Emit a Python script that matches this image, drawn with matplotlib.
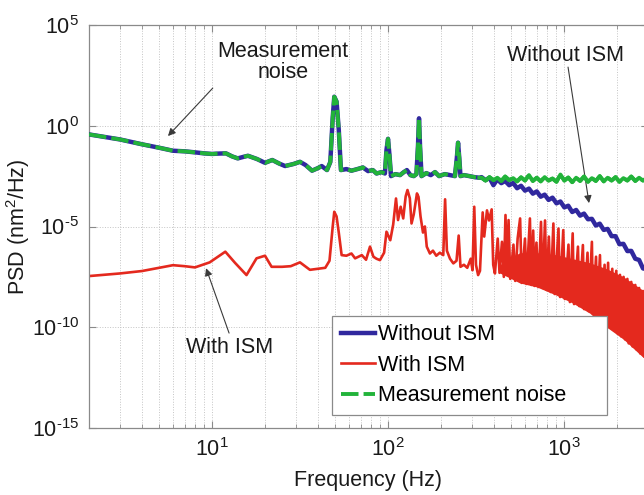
import numpy as np
import matplotlib.pyplot as plt
from matplotlib.ticker import FixedLocator, NullLocator, LogLocator, NullFormatter, FuncFormatter

plt.rcParams['font.family'] = ['Liberation Sans', 'DejaVu Sans']
plt.rcParams['mathtext.fontset'] = 'custom'
plt.rcParams['mathtext.rm'] = 'Liberation Sans'
plt.rcParams['mathtext.it'] = 'Liberation Sans:italic'
plt.rcParams['axes.unicode_minus'] = False

# Shared part of the spectrum (without ISM and measurement noise coincide below ~340 Hz), log10 PSD
common_freq = [2, 3, 4, 5, 6, 7, 8, 9, 10, 11, 12, 13, 14, 15, 16, 18, 20, 22, 24, 26,
               29, 31.6, 34, 37, 40, 42, 45, 47, 48.5, 49.5, 51, 52.5, 54, 58, 62, 67, 72,
               77, 82, 86, 92, 96, 98, 100, 102, 104, 110, 117, 123, 128, 134, 140, 145,
               148, 150, 152, 155, 165, 175, 185, 195, 210, 225, 240, 246, 250, 254, 258,
               270, 290, 310, 330]
common_log = [-0.43, -0.68, -0.92, -1.09, -1.24, -1.27, -1.32, -1.37, -1.40, -1.38, -1.37,
              -1.52, -1.62, -1.55, -1.49, -1.65, -1.84, -1.70, -1.87, -2.00, -1.90, -1.79,
              -1.95, -2.23, -2.10, -2.00, -2.20, -1.80, 0.40, 1.44, 1.20, -0.20, -2.20,
              -2.15, -2.23, -2.15, -2.07, -2.25, -2.20, -2.37, -2.30, -2.37, -1.20, -0.65,
              -1.50, -2.50, -2.40, -2.45, -2.30, -2.20, -2.45, -2.50, -2.40, -1.00, 0.37,
              -1.00, -2.50, -2.35, -2.45, -2.30, -2.50, -2.40, -2.45, -2.50, -1.60, -0.84,
              -1.60, -2.50, -2.45, -2.50, -2.55, -2.58]

# Above ~340 Hz the two curves separate
high_freq = [340, 358, 377, 397, 418, 440, 463, 488, 514, 541, 570, 600, 632, 665, 700,
             737, 776, 817, 860, 906, 954, 1004, 1057, 1113, 1172, 1234, 1299, 1368, 1440,
             1516, 1596, 1681, 1770, 1863, 1962, 2065, 2175, 2290, 2410, 2540, 2670, 2810,
             2960, 3000]
without_high_log = [-2.55, -2.70, -2.58, -2.95, -2.66, -2.85, -2.74, -2.95, -2.84, -3.10,
                    -2.98, -3.22, -3.12, -3.37, -3.26, -3.52, -3.42, -3.68, -3.57, -3.85,
                    -3.76, -4.05, -3.97, -4.28, -4.18, -4.46, -4.36, -4.64, -4.62, -4.95,
                    -4.86, -5.17, -5.12, -5.48, -5.48, -5.88, -5.86, -6.22, -6.21, -6.60,
                    -6.66, -7.08, -7.12, -7.25]
noise_high_log = [-2.58, -2.72, -2.55, -2.70, -2.58, -2.74, -2.52, -2.70, -2.60, -2.76,
                  -2.56, -2.72, -2.45, -2.74, -2.58, -2.76, -2.55, -2.72, -2.62, -2.78,
                  -2.42, -2.72, -2.57, -2.80, -2.58, -2.74, -2.52, -2.78, -2.60, -2.74,
                  -2.50, -2.76, -2.58, -2.72, -2.55, -2.78, -2.60, -2.72, -2.52, -2.74,
                  -2.58, -2.72, -2.60, -2.66]

# With ISM, log10 PSD
with_freq = [2, 3, 4, 5, 6, 7, 8, 9.7, 11.9, 13.5, 15.7, 17.9, 20, 21.8, 25, 28, 31.6, 36,
             40, 44, 46.5, 48.5, 49.5, 51, 52.5, 54.5, 58, 62, 65, 71, 75, 79, 82.6, 86, 90,
             95, 98, 103, 107, 111, 114, 118, 122, 126, 129, 133, 136, 140, 146, 149, 153,
             158, 162, 166, 173, 180, 188, 197, 206, 211, 216, 225, 235, 245, 252, 258, 270,
             282, 295, 302, 309, 316, 325, 333, 345, 352, 365, 375, 388, 396, 405,
             420, 430, 444, 455, 465, 474, 484, 495, 516, 528, 545, 563, 575, 600, 612, 640,
             652, 668, 680, 697, 715, 740, 755, 780, 795, 820, 840, 870, 885, 930, 950, 990,
             1010, 1060, 1080, 1120, 1140, 1200, 1220, 1280, 1300, 1360, 1380, 1440, 1460,
             1520, 1540, 1600, 1630, 1700, 1720, 1780, 1810, 1880, 1910, 1980, 2010, 2080,
             2110, 2180, 2220, 2290, 2330, 2410, 2450, 2540, 2580, 2670, 2710, 2810, 2850,
             2960, 3000]
with_log = [-7.46, -7.33, -7.21, -7.05, -6.92, -6.97, -7.03, -6.78, -6.25, -6.80, -7.41,
            -6.58, -6.45, -7.00, -7.00, -6.97, -6.78, -7.15, -7.10, -7.05, -6.70, -5.00,
            -4.27, -4.50, -5.30, -6.42, -6.45, -6.34, -6.58, -6.42, -6.65, -6.00, -6.50,
            -6.60, -6.67, -6.30, -5.26, -5.68, -4.90, -3.61, -4.68, -4.02, -4.60, -3.50,
            -3.19, -3.60, -4.85, -4.40, -3.36, -3.53, -4.50, -5.30, -5.00, -6.00, -6.34,
            -6.20, -6.45, -6.30, -6.42, -3.65, -6.20, -6.60, -6.83, -6.70, -5.45, -7.00,
            -6.90, -7.05, -6.60, -7.17, -4.02, -6.90, -7.41, -7.20, -4.30, -5.50, -4.20,
            -4.70, -4.15, -6.90, -7.33,
            -5.60, -7.30, -5.76, -7.50, -4.43, -7.40, -4.68, -7.60, -5.90, -7.70, -5.60,
            -4.60, -7.80, -5.60, -7.85, -4.60, -7.90, -5.20, -7.95, -5.80, -8.00, -4.77,
            -8.05, -4.70, -8.15, -5.50, -8.25, -4.85, -8.35, -5.10, -8.50, -5.18, -8.60,
            -5.90, -8.75, -5.34, -8.85, -6.00, -8.95, -5.92, -9.10, -6.30, -9.20, -5.76,
            -9.35, -6.50, -9.50, -6.42, -9.60, -6.90, -9.80, -6.80, -10.00, -7.10, -10.10,
            -7.20, -10.30, -7.40, -10.45, -7.50, -10.60, -7.60, -10.80, -7.75, -10.95,
            -7.90, -11.10, -8.05, -11.30, -8.20, -11.45, -8.35, -11.60]

# Dense part of the with-ISM trace at high frequency (upper / lower edge)
band_freq = [430, 560, 700, 900, 1120, 1400, 1750, 2180, 2740, 3000]
band_hi_log = [-6.9, -6.3, -6.3, -6.4, -6.6, -6.8, -7.1, -7.5, -8.1, -8.4]
band_lo_log = [-7.3, -7.8, -8.0, -8.4, -8.8, -9.3, -10.0, -10.6, -11.4, -11.7]

blue = '#30289e'
red = '#e4291e'
green = '#22b33a'
ink = '#1a1a1a'
frame = '#8a8a8a'
fs = 15.5

fig = plt.figure(figsize=(6.44, 4.95), dpi=100)
ax = fig.add_axes([89 / 644, 67 / 495, 559 / 644, 403 / 495])

without_freq = np.array(common_freq + high_freq)
without_psd = 10.0 ** np.array(common_log + without_high_log)
noise_psd = 10.0 ** np.array(common_log + noise_high_log)
n_common = len(common_freq)

ax.plot(without_freq, without_psd, color=blue, lw=3.2, label='Without ISM', zorder=3)
ax.fill_between(band_freq, 10.0 ** np.array(band_lo_log), 10.0 ** np.array(band_hi_log),
                color=red, lw=0, zorder=2)
ax.plot(with_freq, 10.0 ** np.array(with_log), color=red, lw=1.9, label='With ISM', zorder=2)
ax.plot(without_freq, noise_psd, color=green, lw=2.8, dashes=(4.5, 1.3),
        label='Measurement noise', zorder=4)
# the noisy part above the knee reads as a solid band
ax.plot(without_freq[n_common - 1:], noise_psd[n_common - 1:], color=green, lw=2.8, zorder=4)

ax.set_xscale('log')
ax.set_yscale('log')
ax.set_xlim(2, 3000)
ax.set_ylim(1e-15, 1e5)


def decade_label(val, pos):
    e = int(round(np.log10(val)))
    if e < 0:
        return r'$\mathregular{10^{\text{-}%d}}$' % (-e)
    return r'$\mathregular{10^{%d}}$' % e


ax.yaxis.set_major_locator(FixedLocator([1e-15, 1e-10, 1e-5, 1e0, 1e5]))
ax.yaxis.set_minor_locator(NullLocator())
ax.yaxis.set_major_formatter(FuncFormatter(decade_label))
ax.xaxis.set_major_locator(LogLocator(base=10, numticks=10))
ax.xaxis.set_minor_locator(LogLocator(base=10, subs=np.arange(2, 10), numticks=20))
ax.xaxis.set_major_formatter(FuncFormatter(decade_label))
ax.xaxis.set_minor_formatter(NullFormatter())

ax.grid(True, which='major', axis='both', color='#c4c4c4', ls=':', lw=0.7)
ax.grid(True, which='minor', axis='x', color='#c4c4c4', ls=':', lw=0.7)
ax.set_axisbelow(True)

for sp in ax.spines.values():
    sp.set_color(frame)
    sp.set_linewidth(0.9)
ax.tick_params(which='both', direction='in', top=True, right=True, color=frame,
               labelsize=fs, labelcolor=ink)
ax.tick_params(which='major', length=5, width=0.8)
ax.tick_params(which='minor', length=3, width=0.6)
ax.tick_params(axis='x', pad=7)
ax.tick_params(axis='y', pad=7)

ax.set_xlabel('Frequency (Hz)', fontsize=fs, color=ink)
ax.set_ylabel('PSD (nm$^2$/Hz)', fontsize=fs, color=ink)
ax.xaxis.set_label_coords(0.5, -0.104)
ax.yaxis.set_label_coords(-0.102, 0.5)

# Callouts
arrow = dict(arrowstyle='-|>', color='#3a3a3a', lw=0.8, mutation_scale=11,
             shrinkA=0, shrinkB=0)
ax.text(25.3, 10 ** 3.16, 'Measurement\nnoise', fontsize=fs, ha='center', va='center',
        linespacing=1.05, color=ink)
ax.annotate('', xy=(5.62, 10 ** -0.51), xytext=(10.1, 10 ** 1.87), arrowprops=arrow)

ax.text(1026, 10 ** 3.51, 'Without ISM', fontsize=fs, ha='center', va='center', color=ink)
ax.annotate('', xy=(1387, 10 ** -3.84), xytext=(1054, 10 ** 2.91), arrowprops=arrow)

ax.text(12.5, 10 ** -10.99, 'With ISM', fontsize=fs, ha='center', va='center', color=ink)
ax.annotate('', xy=(9.25, 10 ** -7.07), xytext=(12.5, 10 ** -10.29), arrowprops=arrow)

leg = ax.legend(loc='lower left', bbox_to_anchor=(0.435, 0.032, 0.492, 0.25),
                mode='expand', fontsize=fs, handlelength=1.6, handletextpad=0.15,
                borderpad=0.4, labelspacing=0.45, fancybox=False, framealpha=1,
                borderaxespad=0)
leg.get_frame().set_edgecolor(frame)
leg.get_frame().set_linewidth(0.9)

fig.savefig('out.png', dpi=100)
